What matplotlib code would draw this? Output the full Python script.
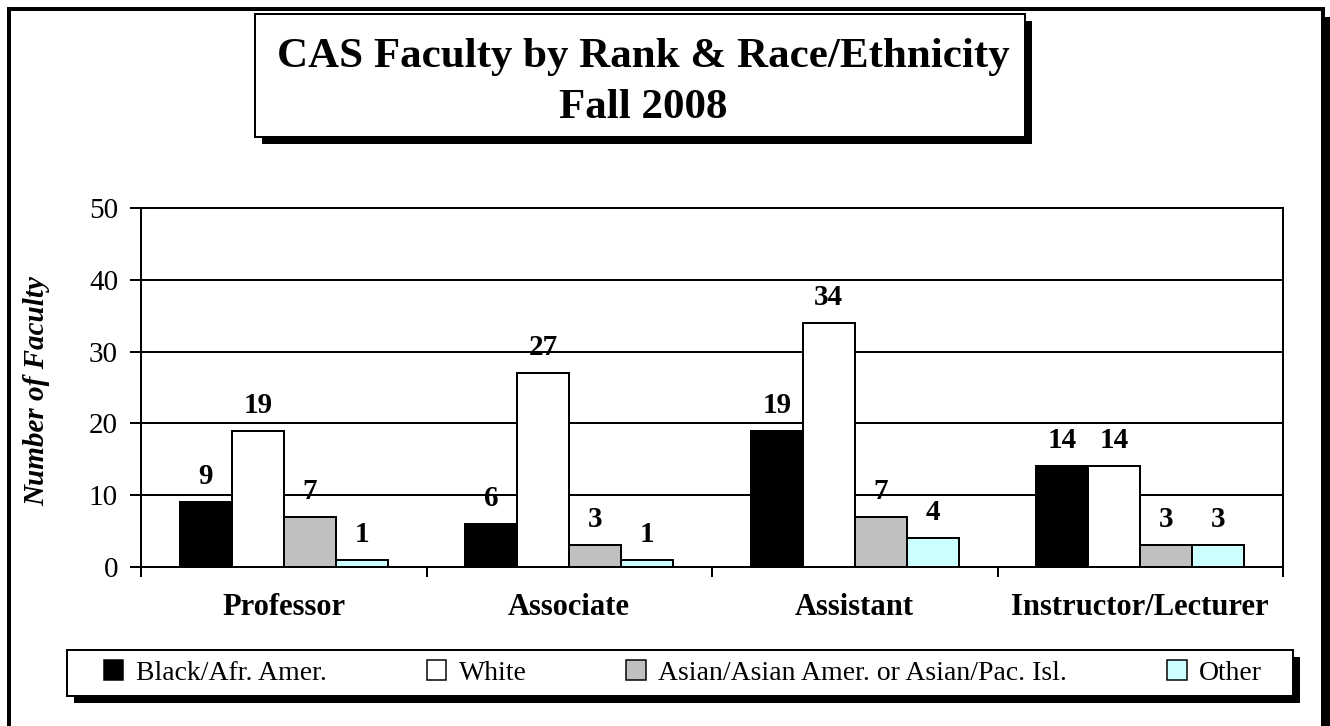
import matplotlib
matplotlib.use("Agg")
import matplotlib.pyplot as plt
from matplotlib.patches import Rectangle, Patch
import numpy as np

# ---- data ----
categories = ["Professor", "Associate", "Assistant", "Instructor/Lecturer"]
series_names = ["Black/Afr. Amer.", "White", "Asian/Asian Amer. or Asian/Pac. Isl.", "Other"]
black_afr = [9, 6, 19, 14]
white = [19, 27, 34, 14]
asian = [7, 3, 7, 3]
other = [1, 1, 4, 3]
series_values = [black_afr, white, asian, other]
series_colors = ["#000000", "#FFFFFF", "#C0C0C0", "#CCFFFF"]
y_ticks = [0, 10, 20, 30, 40, 50]
title_lines = ["CAS Faculty by Rank & Race/Ethnicity", "Fall 2008"]
y_label = "Number of Faculty"

W, H = 1330, 726
SERIF = ["Liberation Serif", "DejaVu Serif"]
plt.rcParams["font.family"] = SERIF

fig = plt.figure(figsize=(W / 100, H / 100), dpi=100)


def fx(x):
    return x / W


def fy(y):
    return 1 - y / H


def px2pt(p):
    return p * 72 / 100


def box(x0, y0, x1, y1, lw_px=2, shadow=7, zorder=1):
    if shadow:
        fig.patches.append(Rectangle((fx(x0 + shadow), fy(y1 + shadow)),
                                     fx(x1) - fx(x0), fy(y0) - fy(y1),
                                     transform=fig.transFigure, facecolor="black",
                                     edgecolor="none", zorder=zorder))
    fig.patches.append(Rectangle((fx(x0), fy(y1)), fx(x1) - fx(x0), fy(y0) - fy(y1),
                                 transform=fig.transFigure, facecolor="white",
                                 edgecolor="black", linewidth=px2pt(lw_px),
                                 zorder=zorder + 0.5))


# outer frame with shadow on right
fig.patches.append(Rectangle((fx(1323), fy(760)), fx(1340) - fx(1323), fy(17) - fy(760),
                             transform=fig.transFigure, facecolor="black",
                             edgecolor="none", zorder=0))
fig.patches.append(Rectangle((fx(9), fy(745)), fx(1323) - fx(9), fy(9) - fy(745),
                             transform=fig.transFigure, facecolor="none",
                             edgecolor="black", linewidth=px2pt(4), zorder=0.5))

# title box
box(255, 14, 1025, 137, lw_px=2, shadow=7, zorder=2)
fig.text(fx(643), fy(67), title_lines[0], ha="center", va="baseline",
         fontsize=31, fontweight="bold", zorder=5)
fig.text(fx(643), fy(118), title_lines[1], ha="center", va="baseline",
         fontsize=31, fontweight="bold", zorder=5)

# axes
ax_left, ax_right, ax_top, ax_bottom = 141, 1283, 208, 567
ax = fig.add_axes([fx(ax_left), fy(ax_bottom), fx(ax_right) - fx(ax_left),
                   fy(ax_top) - fy(ax_bottom)])
ax.set_facecolor("none")

n_cat = len(categories)
n_ser = len(series_values)
bw = 1 / 5.5
xc = np.arange(n_cat)
for j, (vals, col) in enumerate(zip(series_values, series_colors)):
    xs = xc + (j - (n_ser - 1) / 2) * bw
    ax.bar(xs, vals, width=bw, color=col, edgecolor="black",
           linewidth=px2pt(2), zorder=3)
    for x, v in zip(xs, vals):
        ax.annotate(str(v), (x, v), xytext=(0, px2pt(18)), textcoords="offset points",
                    ha="center", va="baseline", fontsize=21, fontweight="bold",
                    zorder=4)

ax.set_xlim(-0.5, n_cat - 0.5)
ax.set_ylim(0, 50)
ax.set_yticks(y_ticks)
ax.set_yticklabels([str(t) for t in y_ticks], fontsize=21)
ax.yaxis.grid(True, color="black", linewidth=px2pt(2), zorder=0)
ax.set_axisbelow(True)
ax.tick_params(axis="y", direction="out", length=px2pt(11), width=px2pt(2),
               pad=px2pt(12))

ax.set_xticks(xc)
ax.set_xticklabels(categories, fontsize=22, fontweight="bold")
ax.tick_params(axis="x", which="major", length=0, pad=px2pt(26))
ax.set_xticks(np.arange(-0.5, n_cat), minor=True)
ax.tick_params(axis="x", which="minor", direction="out", length=px2pt(10),
               width=px2pt(2))

for s in ax.spines.values():
    s.set_linewidth(px2pt(2))
    s.set_color("black")

fig.text(fx(37), fy(391), y_label, rotation=90, ha="center", va="center",
         fontsize=21, fontweight="bold", fontstyle="italic")

# legend box
box(67, 650, 1293, 696, lw_px=2, shadow=7, zorder=2)
handles = [Patch(facecolor=c, edgecolor="black", linewidth=px2pt(1.5))
           for c in series_colors]
leg = fig.legend(handles, series_names, loc="center",
                 bbox_to_anchor=(fx(104), fy(696), fx(1262) - fx(104), fy(650) - fy(696)),
                 bbox_transform=fig.transFigure, mode="expand", ncol=4,
                 frameon=False, borderpad=0, borderaxespad=0, handlelength=0.7,
                 handleheight=0.7, handletextpad=0.45, fontsize=20)
leg.set_zorder(6)

fig.savefig("out.png", dpi=100)
